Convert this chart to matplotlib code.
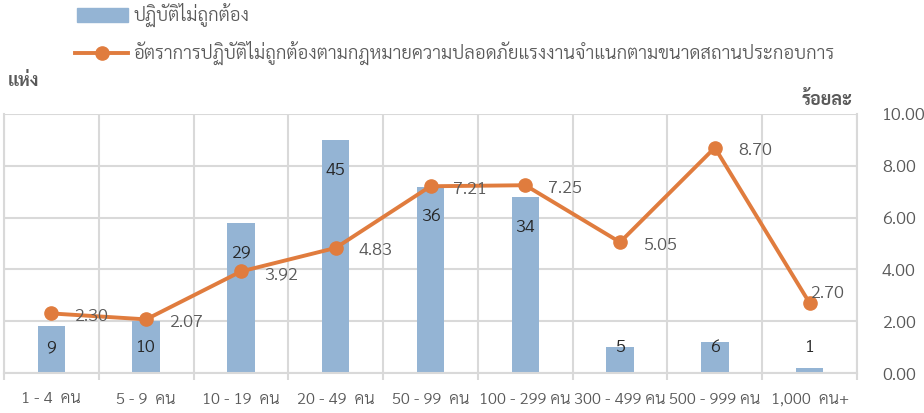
import matplotlib
matplotlib.use("Agg")
import matplotlib.pyplot as plt
import numpy as np

plt.rcParams["font.family"] = ["Sarabun", "DejaVu Sans"]
plt.rcParams["font.weight"] = 300

sizes = ["1 - 4  คน", "5 - 9  คน", "10 - 19  คน", "20 - 49  คน", "50 - 99  คน",
         "100 - 299 คน", "300 - 499 คน", "500 - 999 คน", "1,000  คน+"]
counts = [9, 10, 29, 45, 36, 34, 5, 6, 1]
rates = [2.30, 2.07, 3.92, 4.83, 7.21, 7.25, 5.05, 8.70, 2.70]

bar_name = "ปฏิบัติไม่ถูกต้อง"
line_name = "อัตราการปฏิบัติไม่ถูกต้องตามกฎหมายความปลอดภัยแรงงานจำแนกตามขนาดสถานประกอบการ"

BAR_C = "#94B4D4"
LINE_C = "#E07C3E"
GRID_C = "#D9D9D9"
TXT_C = "#595959"

fig = plt.figure(figsize=(9.24, 4.13), dpi=100)
ax = fig.add_axes([4 / 924, 40 / 413, 853 / 924, 259 / 413])
ax2 = ax.twinx()

x = np.arange(len(sizes))
ax.bar(x, counts, width=0.29, color=BAR_C, zorder=2)
ax.set_ylim(0, 50)
ax.set_xlim(-0.5, len(sizes) - 0.5)

# horizontal grid lives on the bar axis so the bars cover it
ax.set_yticks(np.arange(0, 51, 10))
ax.set_yticklabels([])
ax.tick_params(axis="y", length=0)
ax.grid(axis="y", color=GRID_C, lw=1.5, zorder=0)

# vertical separators between size classes, sticking below the baseline as ticks
ax.set_xticks(np.arange(len(sizes) + 1) - 0.5)
ax.set_xticklabels([])
ax.tick_params(axis="x", length=5, width=1.5, color=GRID_C)
ax.grid(axis="x", color=GRID_C, lw=1.5, zorder=0)
ax.set_xticks(x, minor=True)
ax.set_xticklabels(sizes, minor=True, fontsize=11.8, color=TXT_C)
ax.tick_params(axis="x", which="minor", length=0, pad=14)
ax.set_axisbelow(True)

for s in ["top", "right"]:
    ax.spines[s].set_visible(False)
for s in ["left", "bottom"]:
    ax.spines[s].set_color(GRID_C)
    ax.spines[s].set_linewidth(1.5)

# count labels sit inside the bar top, never lower than a fixed floor
for xi, c in zip(x, counts):
    ypos = max(c - 5.85, 4.85)
    ax.text(xi, ypos, str(c), ha="center", va="center", fontsize=13,
            fontweight=350, color="#262626", zorder=3)

ax2.set_ylim(0, 10)
ax2.set_yticks(np.arange(0, 10.01, 2))
ax2.set_yticklabels([f"{v:.2f}" for v in np.arange(0, 10.01, 2)], fontsize=13, color=TXT_C)
ax2.tick_params(axis="y", length=0, pad=18)
for s in ["top", "left", "bottom"]:
    ax2.spines[s].set_visible(False)
ax2.spines["right"].set_color(GRID_C)
ax2.spines["right"].set_linewidth(1.5)

ax2.plot(x, rates, color=LINE_C, lw=2.8, marker="o", ms=9.5, zorder=4)
for xi, r in zip(x, rates):
    off = (23, -3)
    if xi == len(x) - 1:
        off = (0, 10)
    ax2.annotate(f"{r:.2f}", (xi, r), xytext=off, textcoords="offset pixels",
                 ha="left", va="center", fontsize=13, color=TXT_C, zorder=5)

# legend drawn by hand at the top
fig.patches.append(plt.Rectangle((77 / 924, 1 - 22 / 413), 51 / 924, 14 / 413,
                                 transform=fig.transFigure, color=BAR_C))
fig.text(133 / 924, 1 - 15 / 413, bar_name, ha="left", va="center", fontsize=13.4, color=TXT_C)
fig.add_artist(plt.Line2D([75 / 924, 128 / 924], [1 - 53 / 413] * 2, transform=fig.transFigure,
                          color=LINE_C, lw=2.8))
fig.add_artist(plt.Line2D([102 / 924], [1 - 53 / 413], transform=fig.transFigure,
                          color=LINE_C, marker="o", ms=9.5))
fig.text(133 / 924, 1 - 53 / 413, line_name, ha="left", va="center", fontsize=13.4, color=TXT_C)

fig.text(8 / 924, 1 - 82 / 413, "แห่ง", ha="left", va="center", fontsize=13,
         fontweight="bold", color=TXT_C)
fig.text(853 / 924, 1 - 100 / 413, "ร้อยละ", ha="right", va="center", fontsize=13,
         fontweight="bold", color=TXT_C)

fig.savefig("out.png", dpi=100)
